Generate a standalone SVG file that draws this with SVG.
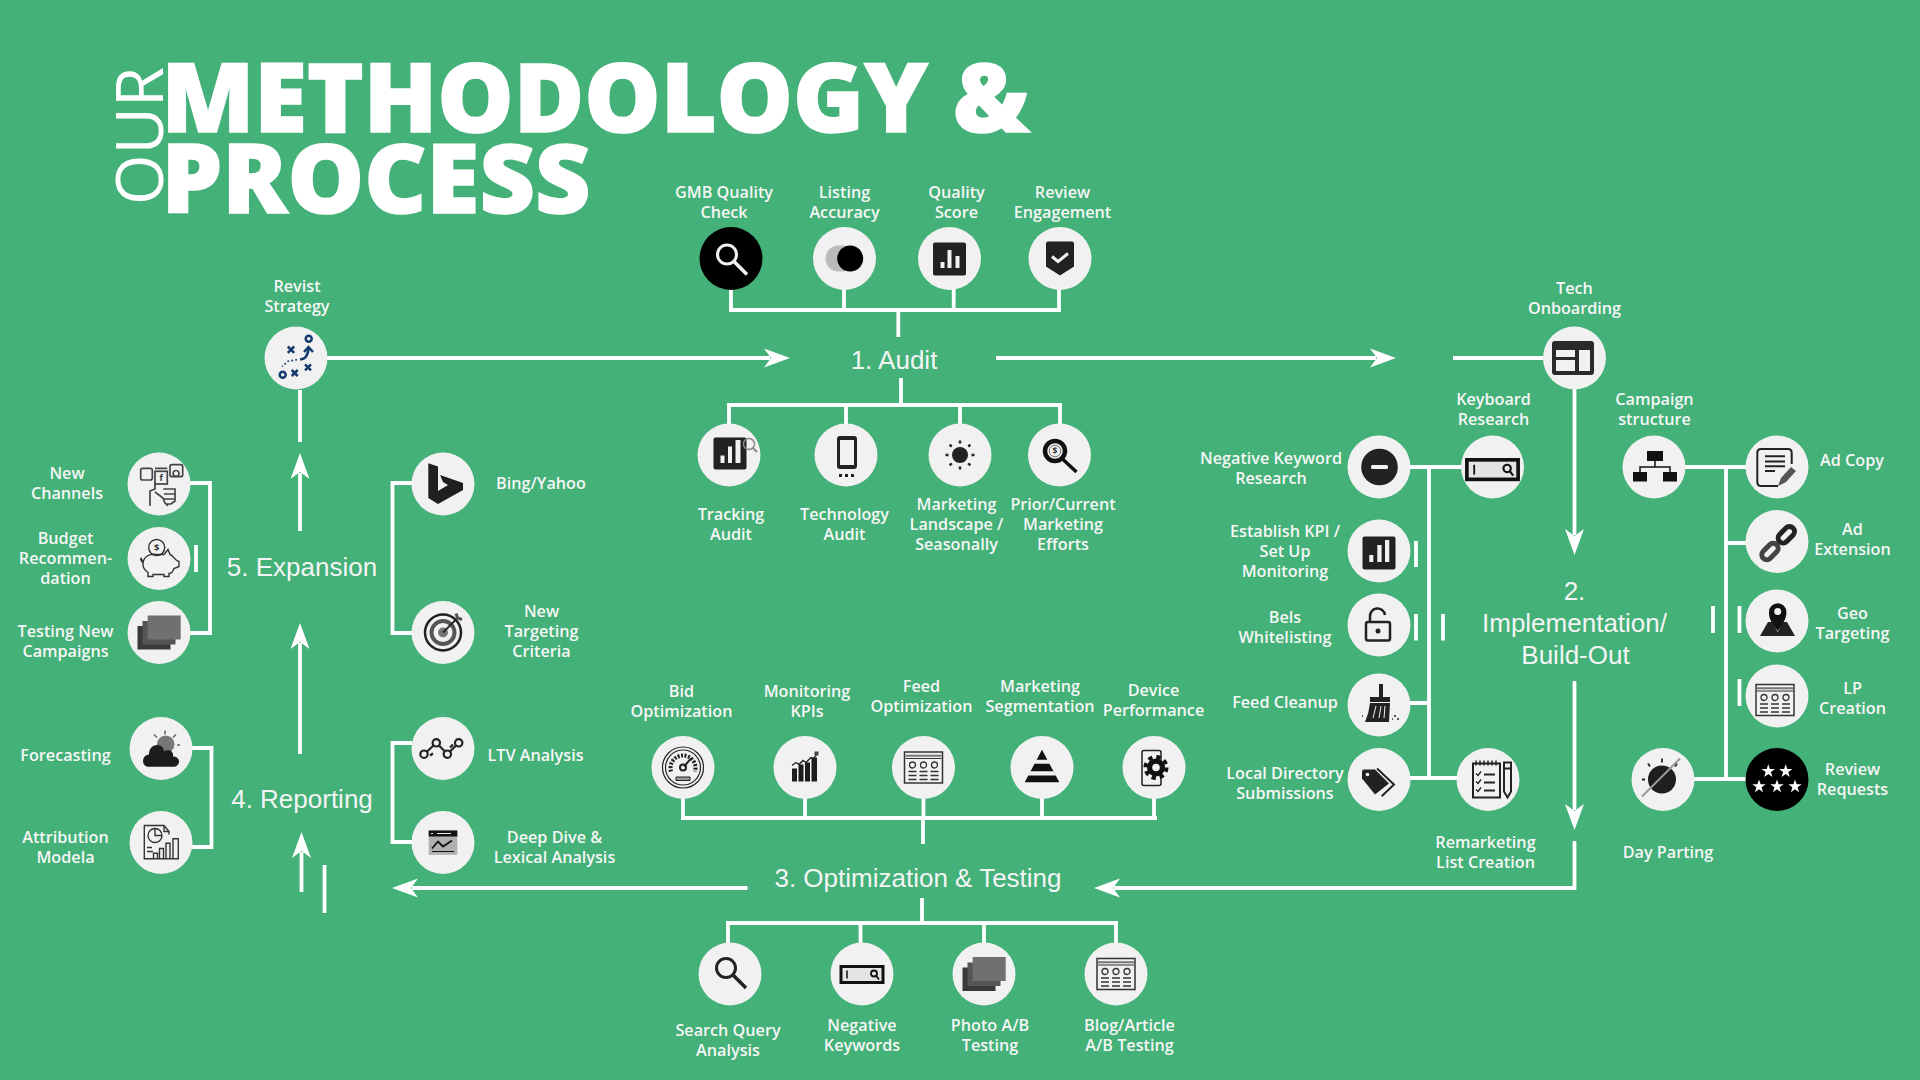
<svg xmlns="http://www.w3.org/2000/svg" width="1920" height="1080" viewBox="0 0 1920 1080">
<style>
.bg{fill:#43b178}
.disc{fill:#f1f1f1}
.blk{fill:#000}
.lb{font-family:"Open Sans","Noto Sans",sans-serif;font-size:16.2px;font-weight:600;fill:#f6f6f6;text-anchor:middle}
.st{font-family:"Liberation Sans",Arial,sans-serif;font-size:26px;fill:#f4f4f4;text-anchor:middle}
.ti{font-family:"Open Sans","Noto Sans",sans-serif;font-weight:800;font-size:96px;fill:#fff;stroke:#fff;stroke-width:1.5px}
.c{fill:none;stroke:#fff;stroke-width:3.8}
.o{fill:none;stroke:#333;stroke-width:1.4}
.d{fill:#222}
.w{fill:#f1f1f1}
.ic{font-family:"Open Sans",sans-serif;font-weight:700;text-anchor:middle;fill:#333}
</style>
<defs>
<marker id="ah" markerUnits="userSpaceOnUse" viewBox="-10 -15 40 30" markerWidth="40" markerHeight="30" refX="0" refY="0" orient="auto"><path d="M-6,-9.500L20,0L-6,9.500L1,0Z" fill="#fff"/></marker>
<polygon id="star" points="0,-7 1.600,-2.200 6.700,-2.200 2.600,0.800 4.100,5.700 0,2.700 -4.100,5.700 -2.600,0.800 -6.700,-2.200 -1.600,-2.200" fill="#fff"/>
<g id="i-search"><circle cx="-4" cy="-4" r="9.500" fill="none" stroke="currentColor" stroke-width="3"/><path d="M3,3L16,16" stroke="currentColor" stroke-width="3.500" fill="none"/></g>
<g id="i-toggle"><rect x="-19" y="-13" width="30" height="26" rx="13" fill="#bbb"/><circle cx="5.700" r="13" fill="#000"/></g>
<g id="i-bars"><rect x="-16.500" y="-16.500" width="33" height="33" rx="2" class="d"/><path d="M-9,3h4v6h-4zM-2,-9h4v18h-4zM6,-3h4v12h-4z" class="w"/></g>
<g id="i-bars2"><rect x="-16.500" y="-16.500" width="33" height="33" rx="2" class="d"/><path d="M-9.700,2h4v7h-4zM-1.700,-8h4.300v17h-4.300zM6,-13h4.300v22h-4.300z" class="w"/></g>
<g id="i-shield"><path d="M-14,-15Q-14,-17,-12,-17H12Q14,-17,14,-15V8L0,17L-14,8Z" class="d"/><path d="M-8,-2L-2,3L8,-5" fill="none" stroke="#f1f1f1" stroke-width="3"/></g>
<g id="i-track"><rect x="-15.500" y="-17.500" width="33" height="32" rx="2" class="d"/><path d="M-8.500,0.500h4v7.500h-4zM-1,-8.500h4v16.500h-4zM6.500,-15h5v23h-5z" class="w"/><circle cx="20" cy="-11" r="5.500" fill="none" stroke="#888" stroke-width="1.500"/><path d="M24,-7L28,-3" stroke="#888" stroke-width="2"/></g>
<g id="i-phone"><rect x="-10" y="-19" width="20" height="33" rx="3" class="d"/><rect x="-7" y="-15" width="14" height="25" class="w"/><path d="M-8,19h3v3h-3zM-2,19h3v3h-3zM4,19h3v3h-3z" class="d"/></g>
<g id="i-sun"><circle r="8" class="d"/><path d="M0,-14.500v3M0,11.500v3M-14.500,0h3M11.500,0h3M-10.300,-10.300l2,2M8.300,8.300l2,2M-10.300,10.300l2,-2M8.300,-8.300l2,-2" stroke="#222" stroke-width="2.500" fill="none"/></g>
<g id="i-dollar"><circle cx="-4.500" cy="-4" r="10" fill="none" stroke="#111" stroke-width="4.500"/><circle cx="-4.500" cy="-4" r="5.800" fill="none" stroke="#555" stroke-width="0.800"/><path d="M3,4L17,17" stroke="#111" stroke-width="3.500"/><text class="ic" x="-4.500" y="-0.800" font-size="8.500">$</text></g>
<g id="i-play" fill="none" stroke="#143a6e" stroke-width="2.500"><circle cx="12.700" cy="-19.300" r="3"/><circle cx="-13.300" cy="16.700" r="3"/><path d="M-8.200,-11.500l6.400,6.400m0,-6.400l-6.400,6.400M9,6.300l6,6M15,6.300l-6,6M-4.300,12l6,6M1.700,12l-6,6M4,1.500Q12,1,12.500,-10M8,-6l4.500,-5l4.500,5"/><path d="M1,1.700L-8,3.200L-14,8.500" stroke-width="1.600" stroke-dasharray="1.800 2.200"/></g>
<g id="i-social" fill="none" stroke="#444" stroke-width="1.700"><rect x="-18.300" y="-15.700" width="11.600" height="11.700" rx="2"/><rect x="-4" y="-12.700" width="12.300" height="12.700"/><rect x="11" y="-19.300" width="12.700" height="12" rx="2"/><path d="M-4,-15.700H8.300M-9,22V7L-4,5V-1M-4,8L4,14L6,19L9,22M4.300,5H16V17L12,20H7M5,10H16M5,15H16M17,-13.500a3,3,0,1,0,0.100,0"/><text class="ic" x="2.200" y="-3" font-size="8.500" stroke="none">f</text></g>
<g id="i-pig" class="o"><circle cx="-2.300" cy="-11" r="8"/><path d="M-16,6C-16,-3,-8,-5,-3,-4L5,-4L9,-9L11,-4C15,-3,15,2,20,3V8L15,10C14,13,12,15,10,15V18H5V16H-6V18H-11V14C-14,12,-16,10,-16,6ZM-16,2L-19,1M-18,-1L-17,4"/><text class="ic" x="-2.300" y="-7.500" font-size="9.500" stroke="none">$</text></g>
<g id="i-stack"><rect x="-21.500" y="-6.500" width="33" height="23.500" fill="#3a3a3a"/><rect x="-16.500" y="-11.500" width="33" height="23.500" fill="#555"/><rect x="-11.300" y="-17" width="33" height="24" fill="#707070"/></g>
<g id="i-bing"><path d="M-14.700,-20.700L-5,-17.500V7L5,1L0,-2L-3,-9L20,-1V6L-5,20L-14.700,14Z" fill="#1f1f1f"/></g>
<g id="i-target" fill="none" stroke="#222"><circle r="18" stroke-width="2.500"/><circle r="11.500" stroke="#555" stroke-width="4"/><circle r="5" fill="#777" stroke="none"/><path d="M0,0L15,-15" stroke-width="1.800"/><path d="M13,-19l1.500,4.500l4.500,1.500" stroke="#555" stroke-width="3"/></g>
<g id="i-ltv" fill="none" stroke="#222" stroke-width="2.200"><circle cx="-19" cy="5.700" r="3.700"/><circle cx="-6.700" cy="-5.700" r="3.700"/><circle cx="4.300" cy="5.700" r="3.700"/><circle cx="15.700" cy="-5.700" r="3.700"/><path d="M-16,3L-9.500,-3M-4,-3L2,3M7,3L13,-3M-13,7l3,-2M7,-1l3,-3"/></g>
<g id="i-deep"><rect x="-14.300" y="-12" width="28.600" height="24.300" fill="#b0b0b0"/><rect x="-14.300" y="-12" width="28.600" height="6" fill="#111"/><path d="M-12,-9h2M-6,-9h14" stroke="#eee" fill="none"/><path d="M-11,6L-5,-1L0,4L9,-2" stroke="#111" stroke-width="1.800" fill="none"/><path d="M-11,9H11" stroke="#111"/></g>
<g id="i-cloud"><circle cx="4.700" cy="-4.300" r="8.700" fill="#777"/><path d="M4,-18v4M-7,-14l3,3M15,-14l-3,3M16,-3.500h3" stroke="#666" stroke-width="1.500"/><path d="M-12,18.300C-20,18.300,-20,7,-12,6C-12,-6,3,-6,3,3C8,0,13,3,12,8C20,8,20,18.300,12,18.300Z" fill="#1c1c1c"/></g>
<g id="i-attr" class="o"><path d="M8,-8V-11L3,-17H-16.700V16.300H-8M3,-17V-11H8"/><circle cx="-6" cy="-7" r="7"/><path d="M-6,-14V-7H1M-14,5H-9M-14,9H-8"/><path d="M-7.500,16V10.700h4V16M-1.500,16V6h4V16M5,16V0.700h4V16M12,16V-3.700h5.300V16M-8,16.300H18"/></g>
<g id="i-gauge" fill="none" stroke="#222"><circle r="20.500" stroke-width="1.200"/><circle r="17.500" stroke-width="1.200"/><path d="M-12,4A12.500,12.500,0,1,1,12,4" stroke-width="4" stroke-dasharray="2 1.500"/><circle r="3" stroke-width="2"/><path d="M1,-1L8,-9" stroke-width="2"/><path d="M-7,9.500H7V13H-7Z" fill="#999" stroke-width="1"/></g>
<g id="i-chart"><path d="M-13,1h5V14h-5zM-6.500,-3h5V14h-5zM0,-5h5V14h-5zM6.500,-10h5.500V14h-5.500z" fill="#1c1c1c"/><path d="M-13,-2L-9,-5L-6,-3L-2,-7L1,-5L6,-10L9,-9L12,-14" stroke="#222" stroke-width="1.400" fill="none"/><rect x="9.500" y="-16" width="4" height="4" fill="#444"/></g>
<g id="i-web"><rect x="-19" y="-15.500" width="38" height="31" fill="none" stroke="#333" stroke-width="1.500"/><path d="M-18,-11.800H18" stroke="#777" stroke-width="2"/><path d="M-18,-9H18" stroke="#333"/><circle cx="-11" cy="-2.500" r="3" fill="none" stroke="#333" stroke-width="1.300"/><circle cy="-2.500" r="3" fill="none" stroke="#333" stroke-width="1.300"/><circle cx="11" cy="-2.500" r="3" fill="none" stroke="#333" stroke-width="1.300"/><path d="M-15,4h8M-15,8h8M-15,12h8M-4,4h8M-4,8h8M-4,12h8M7,4h8M7,8h8M7,12h8" stroke="#333" stroke-width="1.500"/></g>
<g id="i-cone"><path d="M0,-17.700L17.300,14.700H-17.300Z" fill="#111"/><path d="M-5.600,-7.700H5.600L7.800,-3.700H-7.800ZM-11.600,3.700H11.600L14,8H-14Z" fill="#f1f1f1"/></g>
<g id="i-mgear"><rect x="-14" y="-17" width="19" height="35" rx="2" fill="none" stroke="#222" stroke-width="1.500"/><circle r="9" fill="#111"/><circle r="10.500" fill="none" stroke="#111" stroke-width="4" stroke-dasharray="4.300 3.950"/><circle r="3.800" fill="#f1f1f1"/></g>
<g id="i-sbar"><rect x="-21" y="-7.500" width="42" height="16" fill="#e4e4e4" stroke="#111" stroke-width="3"/><path d="M-15,-3.500V4.500" stroke="#111" stroke-width="1.500"/><circle cx="12" cy="-0.500" r="3" fill="none" stroke="#111" stroke-width="1.800"/><path d="M14,1.500l3,4" stroke="#111" stroke-width="1.800"/></g>
<g id="i-layout"><rect x="-21" y="-17" width="42" height="34" rx="3" fill="#2a2a2a"/><path d="M-17,-8H2V-1H-17ZM-17,2H2V13H-17ZM6,-8H17V13H6Z" fill="#f1f1f1"/></g>
<g id="i-minus"><circle r="18.300" fill="#222"/><rect x="-8.500" y="-2" width="17" height="4" rx="1.500" fill="#f1f1f1"/></g>
<g id="i-lock" fill="none" stroke="#222"><rect x="-12" y="-3" width="24" height="18.500" rx="2" stroke-width="2.500"/><path d="M-8,-4V-8A7.500,7.500,0,0,1,7,-10" stroke-width="2.500"/><circle cy="6" r="2.500" fill="#222" stroke="none"/></g>
<g id="i-broom"><path d="M0,-21h4v13h-4zM-9,-8H11V-3H-9Z" fill="#222"/><path d="M-9,-2H11L10,17H-14Q-10,8,-9,-2Z" fill="#222"/><path d="M-3,1L-6,13M2,1L0,13M6,1L5,13" stroke="#f1f1f1"/><path d="M15,11h2M18,14h2M-17,11h1M13,14h1" stroke="#222" stroke-width="1.500"/></g>
<g id="i-tag"><path d="M-17,-8Q-17,-10,-15,-10H-4L10,4L-4,15L-17,-1Z" fill="#222"/><circle cx="-11.500" cy="-5" r="1.800" fill="#f1f1f1"/><path d="M-2,-11L15,5L2.700,16.700" fill="none" stroke="#222" stroke-width="2"/></g>
<g id="i-list"><rect x="-15" y="-16" width="27" height="34" fill="none" stroke="#222" stroke-width="2"/><path d="M-12,-19V-14M-8,-19V-14M-4,-19V-14M0,-19V-14M4,-19V-14M8,-19V-14" stroke="#222" stroke-width="1.500"/><path d="M-12,-6l2,2l3,-4M-12,2l2,2l3,-4M-12,10l2,2l3,-4" fill="none" stroke="#222" stroke-width="1.300"/><path d="M-4,-5H7M-4,3H7M-4,11H7" stroke="#222" stroke-width="2"/><path d="M16,-17H23V12L19.500,18L16,12Z" fill="none" stroke="#222" stroke-width="2"/><path d="M16,-11H23" stroke="#222" stroke-width="2"/></g>
<g id="i-org"><rect x="-7" y="-16" width="16" height="10" fill="#111"/><rect x="-21" y="5" width="14" height="9.500" fill="#111"/><rect x="9" y="5" width="14" height="9.500" fill="#111"/><path d="M1,-6V0M-14,5V0H16V5" fill="none" stroke="#111" stroke-width="1.500"/></g>
<g id="i-copy"><path d="M1,19H-16Q-19.700,19,-19.700,15V-14Q-19.700,-18,-16,-18H11Q14.700,-18,14.700,-14V-3" fill="none" stroke="#222" stroke-width="2"/><path d="M-12,-10.700H8M-12,-5.500H8M-12,-0.700H8M-12,4H-2" stroke="#222" stroke-width="2"/><path d="M1,19L4,11L14,0L19,4L9,15Z" fill="#555"/></g>
<g id="i-link" fill="none" stroke-width="5"><rect x="-5" y="-9.500" width="10" height="19" rx="5" transform="translate(-7 10) rotate(45)" stroke="#444"/><rect x="-5" y="-9.500" width="10" height="19" rx="5" transform="translate(9.300 -6.700) rotate(45)" stroke="#222"/></g>
<g id="i-geo"><path d="M0.700,10C-8,-1,-8,-5,-8,-9A8.700,8.700,0,0,1,9.400,-9C9.400,-5,9,-1,0.700,10Z" fill="#111"/><circle cx="0.700" cy="-9.500" r="3.500" fill="#f1f1f1"/><path d="M-9,1H-5L0.700,11L6,1H10L18,15H-17Z" fill="#222"/></g>
<g id="i-stars"><use href="#star" x="-8.700" y="-8.200"/><use href="#star" x="8.700" y="-8.200"/><use href="#star" x="-18" y="7"/><use href="#star" y="7"/><use href="#star" x="18" y="7"/></g>
<g id="i-day"><circle r="14" fill="#1e1e1e"/><path d="M0,-17v-4M-12,-13l-2,-3M13,-13l2,-3M-17,0h-3" stroke="#222" stroke-width="1.800"/><path d="M-20,17L18,-21" stroke="#999" stroke-width="2"/></g>
</defs>
<rect class="bg" width="1920" height="1080"/>
<g id="title">
<text class="ti" x="161.500" y="132" textLength="868" lengthAdjust="spacingAndGlyphs">METHODOLOGY &amp;</text>
<text class="ti" x="161.500" y="213" textLength="429" lengthAdjust="spacingAndGlyphs">PROCESS</text>
<text transform="translate(163 205) rotate(-90)" font-family="Open Sans, sans-serif" font-size="66" fill="#fff" textLength="138" lengthAdjust="spacingAndGlyphs">OUR</text>
</g>
<g id="connectors">
<path class="c" d="M731,289V310M844,289V310M953.700,289V310M1059,289V310M729,310H1061M898.300,310V337"/>
<path class="c" d="M901,378V405M727,405H1062M729,405V424M846,405V424M960,405V424M1060,405V424"/>
<path class="c" marker-end="url(#ah)" d="M327,358H770"/>
<path class="c" marker-end="url(#ah)" d="M996,358H1376"/>
<path class="c" d="M1453,358H1543"/>
<path class="c" marker-end="url(#ah)" d="M1574.500,389V535"/>
<path class="c" marker-end="url(#ah)" d="M1574.500,681V810"/>
<path class="c" marker-end="url(#ah)" d="M1574.500,841V888H1114"/>
<path class="c" marker-end="url(#ah)" d="M747.500,888H412"/>
<path class="c" d="M683,798V818M805,798V818M923.500,798V818M1042,798V818M1154,798V818M681,818H1157M923,818V844"/>
<path class="c" d="M922,898V923M726,923H1118M728,923V943M860.500,923V943M984,923V943M1116,923V943"/>
<path class="c" d="M300,390V442"/>
<path class="c" marker-end="url(#ah)" d="M300,531V473"/>
<path class="c" marker-end="url(#ah)" d="M300,754V643"/>
<path class="c" marker-end="url(#ah)" d="M301.500,892V852"/>
<path class="c" d="M324.500,865V913M196,545V572"/>
<path class="c" d="M190,483H210V633H190"/>
<path class="c" d="M412,483H392.500V633H412"/>
<path class="c" d="M192,748H211.500V847H192"/>
<path class="c" d="M412,743H392.500V842H412"/>
<path class="c" d="M1410,467H1461M1429,467V780M1410,703H1429M1410,778H1457"/>
<path class="c" d="M1416,541V567M1416,614V640.500M1443,614V640.500"/>
<path class="c" d="M1685,467H1746M1726,467V781M1726,543H1746M1694,779H1746"/>
<path class="c" d="M1713,606V633M1739.500,606V633M1739.500,679V706"/>
</g>
<g id="step-1"><text class="st" x="894" y="369">1. Audit</text></g>
<g id="step-2"><text class="st" x="1574.500" y="600">2.</text><text class="st" x="1574.500" y="632">Implementation/</text><text class="st" x="1575.500" y="663.500">Build-Out</text></g>
<g id="step-3"><text class="st" x="918" y="887">3. Optimization &amp; Testing</text></g>
<g id="step-4"><text class="st" x="302" y="808">4. Reporting</text></g>
<g id="step-5"><text class="st" x="302" y="576">5. Expansion</text></g>
<g id="n-gmb"><circle class="blk" cx="731" cy="258.500" r="31.500"/><use href="#i-search" x="731" y="258.500" color="#f1f1f1"/><text class="lb" x="724" y="198">GMB Quality<tspan x="724" dy="20">Check</tspan></text></g>
<g id="n-listing"><circle class="disc" cx="844.500" cy="258.500" r="31.500"/><use href="#i-toggle" x="844.500" y="258.500"/><text class="lb" x="844.500" y="198">Listing<tspan x="844.500" dy="20">Accuracy</tspan></text></g>
<g id="n-quality"><circle class="disc" cx="949.500" cy="258.500" r="31.500"/><use href="#i-bars" x="949.500" y="259"/><text class="lb" x="956.500" y="198">Quality<tspan x="956.500" dy="20">Score</tspan></text></g>
<g id="n-review"><circle class="disc" cx="1060" cy="258.500" r="31.500"/><use href="#i-shield" x="1060" y="258.500"/><text class="lb" x="1062.500" y="198">Review<tspan x="1062.500" dy="20">Engagement</tspan></text></g>
<g id="n-tracking"><circle class="disc" cx="729" cy="455" r="31.500"/><use href="#i-track" x="729" y="455"/><text class="lb" x="731" y="520">Tracking<tspan x="731" dy="20">Audit</tspan></text></g>
<g id="n-tech"><circle class="disc" cx="846" cy="455" r="31.500"/><use href="#i-phone" x="847" y="455"/><text class="lb" x="844.500" y="520">Technology<tspan x="844.500" dy="20">Audit</tspan></text></g>
<g id="n-landscape"><circle class="disc" cx="960" cy="455" r="31.500"/><use href="#i-sun" x="960" y="455"/><text class="lb" x="956.500" y="510">Marketing<tspan x="956.500" dy="20">Landscape /</tspan><tspan x="956.500" dy="20">Seasonally</tspan></text></g>
<g id="n-prior"><circle class="disc" cx="1059.500" cy="455" r="31.500"/><use href="#i-dollar" x="1059.500" y="455"/><text class="lb" x="1063" y="510">Prior/Current<tspan x="1063" dy="20">Marketing</tspan><tspan x="1063" dy="20">Efforts</tspan></text></g>
<g id="n-revisit"><circle class="disc" cx="296" cy="358" r="31.500"/><use href="#i-play" x="296" y="358"/><text class="lb" x="297" y="292">Revist<tspan x="297" dy="20">Strategy</tspan></text></g>
<g id="n-channels"><circle class="disc" cx="159" cy="484" r="31.500"/><use href="#i-social" x="159" y="484"/><text class="lb" x="67" y="479">New<tspan x="67" dy="20">Channels</tspan></text></g>
<g id="n-budget"><circle class="disc" cx="159" cy="558.500" r="31.500"/><use href="#i-pig" x="159" y="558.500"/><text class="lb" x="65.500" y="543.500">Budget<tspan x="65.500" dy="20">Recommen-</tspan><tspan x="65.500" dy="20">dation</tspan></text></g>
<g id="n-testing"><circle class="disc" cx="159" cy="632.500" r="31.500"/><use href="#i-stack" x="159" y="632.500"/><text class="lb" x="65.500" y="636.500">Testing New<tspan x="65.500" dy="20">Campaigns</tspan></text></g>
<g id="n-bing"><circle class="disc" cx="443" cy="484" r="31.500"/><use href="#i-bing" x="443" y="484"/><text class="lb" x="541" y="489">Bing/Yahoo</text></g>
<g id="n-target"><circle class="disc" cx="443" cy="632.500" r="31.500"/><use href="#i-target" x="443" y="632.500"/><text class="lb" x="541.500" y="617">New<tspan x="541.500" dy="20">Targeting</tspan><tspan x="541.500" dy="20">Criteria</tspan></text></g>
<g id="n-forecast"><circle class="disc" cx="161" cy="748.500" r="31.500"/><use href="#i-cloud" x="161" y="748.500"/><text class="lb" x="65.500" y="761">Forecasting</text></g>
<g id="n-attribution"><circle class="disc" cx="161" cy="842.500" r="31.500"/><use href="#i-attr" x="161" y="842.500"/><text class="lb" x="65.500" y="842.500">Attribution<tspan x="65.500" dy="20">Modela</tspan></text></g>
<g id="n-ltv"><circle class="disc" cx="443" cy="748.500" r="31.500"/><use href="#i-ltv" x="443" y="748.500"/><text class="lb" x="535.500" y="761">LTV Analysis</text></g>
<g id="n-deep"><circle class="disc" cx="443" cy="842.500" r="31.500"/><use href="#i-deep" x="443" y="842.500"/><text class="lb" x="554.500" y="842.500">Deep Dive &amp;<tspan x="554.500" dy="20">Lexical Analysis</tspan></text></g>
<g id="n-bid"><circle class="disc" cx="683" cy="767.500" r="31.500"/><use href="#i-gauge" x="683" y="767.500"/><text class="lb" x="681.500" y="697">Bid<tspan x="681.500" dy="20">Optimization</tspan></text></g>
<g id="n-kpis"><circle class="disc" cx="805" cy="767.500" r="31.500"/><use href="#i-chart" x="805" y="767.500"/><text class="lb" x="807" y="697">Monitoring<tspan x="807" dy="20">KPIs</tspan></text></g>
<g id="n-feedopt"><circle class="disc" cx="923.500" cy="767.500" r="31.500"/><use href="#i-web" x="923.500" y="767.500"/><text class="lb" x="921.500" y="692">Feed<tspan x="921.500" dy="20">Optimization</tspan></text></g>
<g id="n-segment"><circle class="disc" cx="1042" cy="767.500" r="31.500"/><use href="#i-cone" x="1042" y="767.500"/><text class="lb" x="1040" y="692">Marketing<tspan x="1040" dy="20">Segmentation</tspan></text></g>
<g id="n-device"><circle class="disc" cx="1154" cy="767.500" r="31.500"/><use href="#i-mgear" x="1156" y="767.500"/><text class="lb" x="1153.500" y="696">Device<tspan x="1153.500" dy="20">Performance</tspan></text></g>
<g id="n-query"><circle class="disc" cx="730" cy="974" r="31.500"/><use href="#i-search" x="730" y="972" color="#222"/><text class="lb" x="728" y="1036">Search Query<tspan x="728" dy="20">Analysis</tspan></text></g>
<g id="n-negkw"><circle class="disc" cx="862" cy="974" r="31.500"/><use href="#i-sbar" x="862" y="974"/><text class="lb" x="862" y="1031">Negative<tspan x="862" dy="20">Keywords</tspan></text></g>
<g id="n-photo"><circle class="disc" cx="984" cy="974" r="31.500"/><use href="#i-stack" x="984" y="974"/><text class="lb" x="990" y="1031">Photo A/B<tspan x="990" dy="20">Testing</tspan></text></g>
<g id="n-blog"><circle class="disc" cx="1116" cy="974" r="31.500"/><use href="#i-web" x="1116" y="974"/><text class="lb" x="1129.500" y="1031">Blog/Article<tspan x="1129.500" dy="20">A/B Testing</tspan></text></g>
<g id="n-onboard"><circle class="disc" cx="1574.500" cy="358" r="31.500"/><use href="#i-layout" x="1573" y="358"/><text class="lb" x="1574.500" y="294">Tech<tspan x="1574.500" dy="20">Onboarding</tspan></text></g>
<g id="n-keyboard"><circle class="disc" cx="1492.500" cy="467" r="31.500"/><use href="#i-sbar" transform="translate(1492.500 469) scale(1.220)"/><text class="lb" x="1493.500" y="405">Keyboard<tspan x="1493.500" dy="20">Research</tspan></text></g>
<g id="n-negres"><circle class="disc" cx="1379" cy="467" r="31.500"/><use href="#i-minus" x="1379.500" y="467"/><text class="lb" x="1271" y="464">Negative Keyword<tspan x="1271" dy="20">Research</tspan></text></g>
<g id="n-kpi"><circle class="disc" cx="1379" cy="551" r="31.500"/><use href="#i-bars2" x="1379" y="553"/><text class="lb" x="1285" y="537">Establish KPI /<tspan x="1285" dy="20">Set Up</tspan><tspan x="1285" dy="20">Monitoring</tspan></text></g>
<g id="n-bels"><circle class="disc" cx="1379" cy="625" r="31.500"/><use href="#i-lock" x="1378" y="625"/><text class="lb" x="1285" y="623">Bels<tspan x="1285" dy="20">Whitelisting</tspan></text></g>
<g id="n-feed"><circle class="disc" cx="1379" cy="705" r="31.500"/><use href="#i-broom" x="1379" y="705"/><text class="lb" x="1285" y="708">Feed Cleanup</text></g>
<g id="n-local"><circle class="disc" cx="1379" cy="779.500" r="31.500"/><use href="#i-tag" x="1379" y="779.500"/><text class="lb" x="1285" y="779">Local Directory<tspan x="1285" dy="20">Submissions</tspan></text></g>
<g id="n-remark"><circle class="disc" cx="1488" cy="779.500" r="31.500"/><use href="#i-list" x="1488" y="779.500"/><text class="lb" x="1485.500" y="847.500">Remarketing<tspan x="1485.500" dy="20">List Creation</tspan></text></g>
<g id="n-campaign"><circle class="disc" cx="1654" cy="467" r="31.500"/><use href="#i-org" x="1654" y="467"/><text class="lb" x="1654.500" y="405">Campaign<tspan x="1654.500" dy="20">structure</tspan></text></g>
<g id="n-adcopy"><circle class="disc" cx="1777" cy="467" r="31.500"/><use href="#i-copy" x="1777" y="467"/><text class="lb" x="1852" y="466">Ad Copy</text></g>
<g id="n-adext"><circle class="disc" cx="1777" cy="541.500" r="31.500"/><use href="#i-link" x="1777" y="541.500"/><text class="lb" x="1852.500" y="535">Ad<tspan x="1852.500" dy="20">Extension</tspan></text></g>
<g id="n-geo"><circle class="disc" cx="1777" cy="621" r="31.500"/><use href="#i-geo" x="1777" y="621"/><text class="lb" x="1852.500" y="618.500">Geo<tspan x="1852.500" dy="20">Targeting</tspan></text></g>
<g id="n-lp"><circle class="disc" cx="1777" cy="696" r="31.500"/><use href="#i-web" x="1775" y="700"/><text class="lb" x="1852.500" y="694">LP<tspan x="1852.500" dy="20">Creation</tspan></text></g>
<g id="n-requests"><circle class="blk" cx="1777" cy="779.500" r="31.500"/><use href="#i-stars" x="1777" y="779.500"/><text class="lb" x="1852.500" y="775">Review<tspan x="1852.500" dy="20">Requests</tspan></text></g>
<g id="n-day"><circle class="disc" cx="1663" cy="779.500" r="31.500"/><use href="#i-day" x="1662" y="779.500"/><text class="lb" x="1668" y="857.500">Day Parting</text></g>
</svg>
